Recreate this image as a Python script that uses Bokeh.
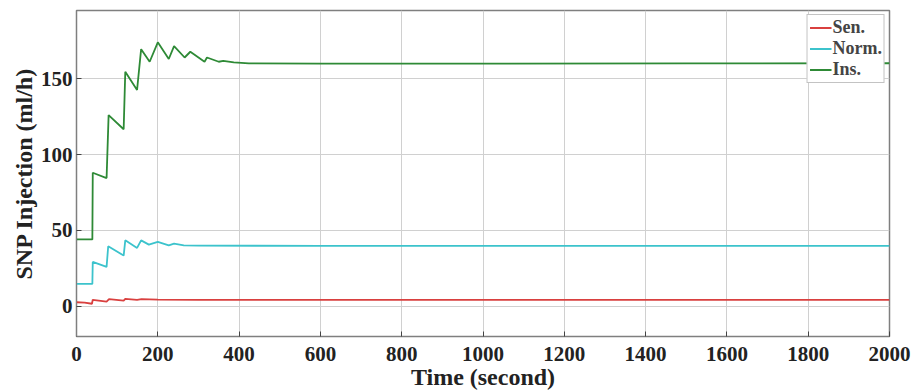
from bokeh.plotting import figure
from bokeh.models import Legend, LegendItem, FixedTicker, Range1d
from bokeh.embed import file_html
from bokeh.resources import INLINE

# Ins. series
ins_t = [0, 39, 40, 74, 79, 116, 120, 149, 159, 180, 200, 227, 240, 266, 280, 315, 321, 350, 361, 387, 424, 600, 1000, 1500, 2000]
ins_v = [44, 44, 88, 84.5, 126, 116.7, 154.6, 142.6, 169.5, 161.2, 174, 163, 171.5, 164, 167.8, 161.2, 164, 161.2, 161.8, 160.8, 160.1, 160, 160, 160.1, 160.2]

# Norm. series
norm_t = [0, 39, 40, 74, 78, 116, 120, 149, 159, 178, 200, 227, 240, 264, 300, 600, 1000, 1500, 2000]
norm_v = [14.7, 14.7, 29.2, 25.9, 39.5, 33.4, 43.4, 38.4, 43.4, 40.6, 42.4, 40.1, 41.2, 40.1, 39.9, 39.8, 39.8, 39.8, 39.8]

# Sen. series
sen_t = [0, 20, 38, 40, 74, 80, 116, 120, 149, 160, 200, 300, 600, 1000, 2000]
sen_v = [2.6, 2.4, 1.6, 4.2, 3.0, 4.6, 3.6, 4.8, 4.2, 4.6, 4.3, 4.2, 4.2, 4.2, 4.2]

x_ticks = [0, 200, 400, 600, 800, 1000, 1200, 1400, 1600, 1800, 2000]
y_ticks = [0, 50, 100, 150]

FONT = "Liberation Serif"

p = figure(width=915, height=392, output_backend="svg", toolbar_location=None,
           x_range=Range1d(0, 2000), y_range=Range1d(-20, 195),
           min_border_left=76, min_border_right=26, min_border_top=10, min_border_bottom=56)

r_sen = p.line(sen_t, sen_v, line_color="#d9403f", line_width=1.8)
r_norm = p.line(norm_t, norm_v, line_color="#3cc3cc", line_width=1.8)
r_ins = p.line(ins_t, ins_v, line_color="#2e8a36", line_width=1.8)

p.xaxis.ticker = FixedTicker(ticks=x_ticks)
p.yaxis.ticker = FixedTicker(ticks=y_ticks)
for ax in (p.xaxis, p.yaxis):
    ax.major_label_text_font = FONT
    ax.major_label_text_font_style = "bold"
    ax.major_label_text_font_size = "21px"
    ax.major_label_text_color = "#222222"
    ax.axis_label_text_font = FONT
    ax.axis_label_text_font_style = "bold"
    ax.axis_label_text_font_size = "24px"
    ax.axis_label_text_color = "#222222"
    ax.axis_line_color = "#7f7f7f"
    ax.major_tick_line_color = "#444444"
    ax.major_tick_in = 5
    ax.major_tick_out = 0
    ax.minor_tick_line_color = None
p.xaxis.axis_label = "Time (second)"
p.yaxis.axis_label = "SNP Injection (ml/h)"
p.xaxis.axis_label_standoff = 0
p.yaxis.axis_label_standoff = 1
p.xaxis.major_label_standoff = 10
p.yaxis.major_label_standoff = 4

p.xgrid.grid_line_color = "#d0d0d0"
p.ygrid.grid_line_color = "#d0d0d0"
p.outline_line_color = "#7f7f7f"
p.outline_line_width = 1.5

legend = Legend(items=[LegendItem(label="Sen.", renderers=[r_sen]),
                       LegendItem(label="Norm.", renderers=[r_norm]),
                       LegendItem(label="Ins.", renderers=[r_ins])],
                location="top_right")
legend.label_text_font = FONT
legend.label_text_font_style = "bold"
legend.label_text_font_size = "18px"
legend.label_height = 19
legend.glyph_height = 19
legend.glyph_width = 22
legend.label_standoff = 1
legend.spacing = 0
legend.padding = 2
legend.margin = 4
legend.border_line_color = "#888888"
legend.border_line_width = 1
legend.background_fill_alpha = 1
p.add_layout(legend)

open("out.html", "w").write(file_html(p, INLINE))
